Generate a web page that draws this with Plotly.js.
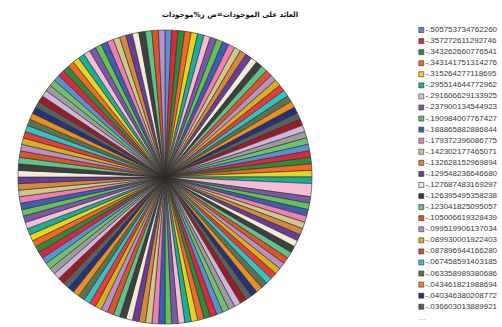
<!DOCTYPE html>
<html>
<head>
<meta charset="utf-8">
<script src="https://cdn.plot.ly/plotly-3.0.1.min.js"></script>
<style>html,body{margin:0;padding:0;background:#fff;}#chart{width:502px;height:327px;}</style>
</head>
<body>
<div id="chart"></div>
<script>
// Chart title
var chartTitle = "العائد على الموجودات=ص ر%موجودات";

// Legend labels visible in the reference (first 26 categories, ascending)
var legendLabels = [
  "-.505753734762260", "-.357272611292746", "-.343262660776541", "-.343141751314276",
  "-.315264277118695", "-.295514644772962", "-.291606629133925", "-.237900134544923",
  "-.190984007767427", "-.188865882886844", "-.179372396086775", "-.142302177465071",
  "-.132628152969894", "-.129548236646680", "-.127687483169297", "-.126395495358238",
  "-.123041825095057", "-.105006619328439", "-.099519906137034", "-.089930001922403",
  "-.087896944166280", "-.067458591403185", "-.063358989380686", "-.043461821988694",
  "-.040346380208772", "-.036603013889921"
];

// Slice sizes (frequency of each category: 139 slices, one with count 2)
var sliceValues = [
  1,1,1,1,1,1,1,1,1,1, 1,1,1,1,1,1,1,1,1,1, 1,1,1,1,1,1,1,1,1,1,
  1,1,1,1,1,1,2,1,1,1, 1,1,1,1,1,1,1,1,1,1, 1,1,1,1,1,1,1,1,1,1,
  1,1,1,1,1,1,1,1,1,1, 1,1,1,1,1,1,1,1,1,1, 1,1,1,1,1,1,1,1,1,1,
  1,1,1,1,1,1,1,1,1,1, 1,1,1,1,1,1,1,1,1,1, 1,1,1,1,1,1,1,1,1,1,
  1,1,1,1,1,1,1,1,1,1, 1,1,1,1,1,1,1,1,1
];

// Colour cycle (30 colours)
var palette = [
  "#5b8fd2", "#d92a3c", "#2f8a3e", "#f06a25", "#e5d51f", "#1bae97",
  "#f5bcd6", "#7b58a8", "#63c156", "#3c5fb4", "#ef7fb1", "#cfc78b",
  "#d48a3c", "#6a3c98", "#f0ecd6", "#3f3f3f", "#5ec48c", "#d9552e",
  "#b78fc9", "#d8b01d", "#e53c3d", "#36c2c4", "#5d7250", "#eb8e21",
  "#24347a", "#5a605e", "#9d1c22", "#cdb6dc", "#9c9c9c", "#6fc26c"
];

var sliceColors = sliceValues.map(function(v, i){ return palette[i % palette.length]; });
var legendColors = legendLabels.map(function(l, i){ return palette[i % palette.length]; });
var legendIdx = legendLabels.map(function(l, i){ return i; });
var legendX = legendLabels.map(function(){ return 0; });

var pieTrace = {
  type: "pie",
  values: sliceValues,
  sort: false,
  direction: "clockwise",
  rotation: 0,
  textinfo: "none",
  hoverinfo: "none",
  showlegend: false,
  marker: { colors: sliceColors, line: { color: "#2a2a2a", width: 0.6 } },
  domain: { x: [18/502, 312/502], y: [1 - 324/327, 1 - 30/327] }
};

var legendTrace = {
  type: "scatter",
  mode: "markers+text",
  x: legendX,
  y: legendIdx,
  text: legendLabels,
  textposition: "middle right",
  textfont: { family: "Liberation Sans, Arial, sans-serif", size: 8, color: "#3a3a3a" },
  marker: { symbol: "square", size: 5, color: legendColors, line: { color: "#333", width: 0.6 } },
  cliponaxis: false,
  hoverinfo: "none",
  showlegend: false
};

var layout = {
  width: 502, height: 327,
  margin: { l: 0, r: 0, t: 0, b: 0 },
  paper_bgcolor: "#ffffff",
  plot_bgcolor: "rgba(0,0,0,0)",
  showlegend: false,
  title: {
    text: chartTitle,
    x: 230/502, xanchor: "center",
    y: 1 - 15/327, yanchor: "middle",
    font: { family: "DejaVu Sans, sans-serif", size: 7.1, color: "#111", weight: "bold" }
  },
  xaxis: { domain: [421.3/502, 1], range: [0, 1], visible: false, fixedrange: true },
  yaxis: { domain: [0, 1], range: [(327 - 30)/11.07, -30/11.07], visible: false, fixedrange: true },
  annotations: [{
    xref: "x", yref: "y", x: 0, y: legendLabels.length,
    text: "...", showarrow: false, xanchor: "left", yanchor: "middle", xshift: -4,
    font: { family: "Liberation Sans, Arial, sans-serif", size: 8, color: "#888" }
  }]
};

Plotly.newPlot("chart", [pieTrace, legendTrace], layout, { staticPlot: true, displayModeBar: false });
</script>
</body>
</html>
